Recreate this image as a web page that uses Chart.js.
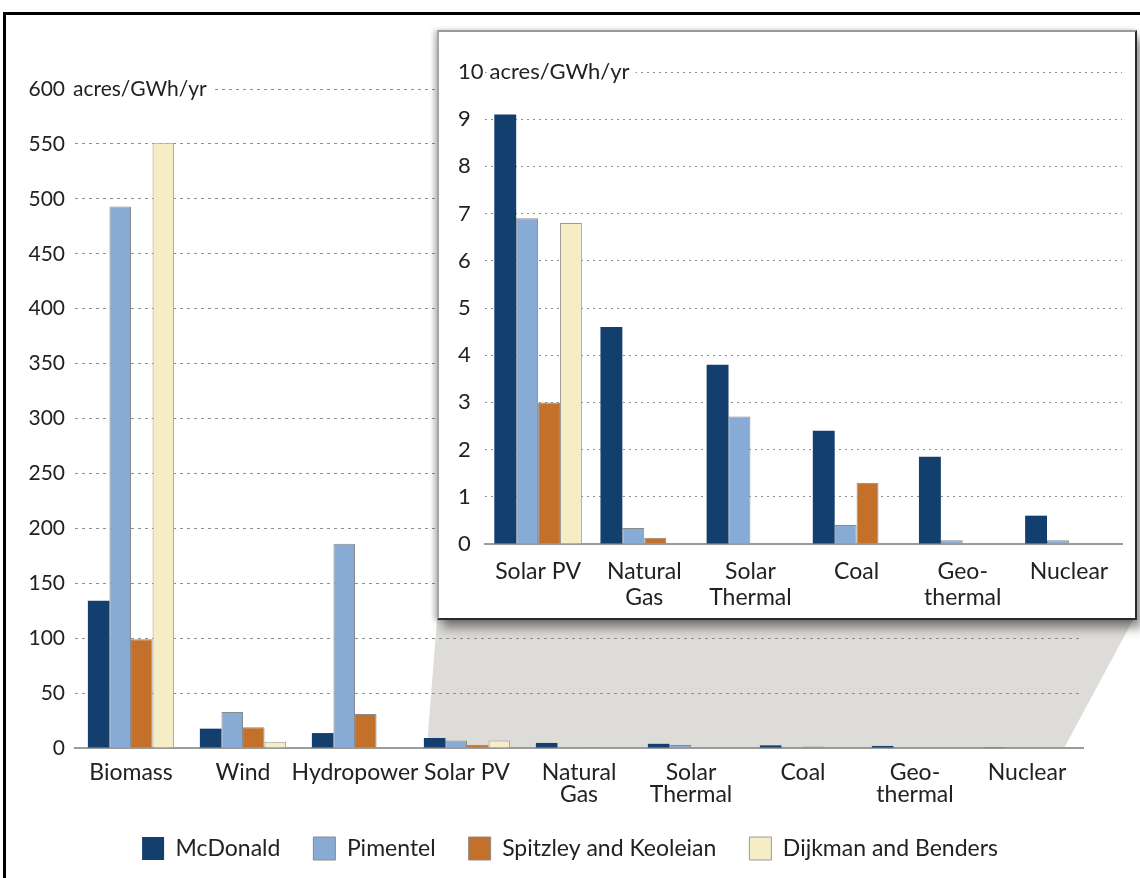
<!DOCTYPE html>
<html>
<head>
<meta charset="utf-8">
<script src="https://cdn.jsdelivr.net/npm/chart.js@4.4.0/dist/chart.umd.min.js"></script>
<style>
  html, body { margin: 0; padding: 0; background: #fff; overflow: hidden; }
  #page { position: relative; width: 1140px; height: 878px; overflow: hidden; }
  #frame { position: absolute; left: 3px; top: 12px; width: 1160px; height: 900px;
           border: 3px solid #000; box-sizing: border-box; z-index: 3; pointer-events: none; }
  #main { position: absolute; left: 0; top: 0; }
  #inset { position: absolute; left: 437px; top: 30px; width: 700px; height: 590px;
           box-sizing: border-box; background: #fff; z-index: 2;
           border: 2px solid #2a2a2a; border-top-color: #9a9a9a; border-left-color: #a5a5a5;
           box-shadow: 5px 8px 10px rgba(0,0,0,0.45), -3px 0 5px rgba(0,0,0,0.22); }
  #insetChart { position: absolute; left: 0; top: 0; }
</style>
</head>
<body>
<div id="page">
  <canvas id="main" width="1140" height="878"></canvas>
  <div id="inset"><canvas id="insetChart" width="696" height="586"></canvas></div>
  <div id="frame"></div>
</div>
<script>
// land use per energy source, acres/GWh/yr
const categories = ['Biomass', 'Wind', 'Hydropower', 'Solar PV', ['Natural', 'Gas'],
                    ['Solar', 'Thermal'], 'Coal', ['Geo-', 'thermal'], 'Nuclear'];
const seriesNames = ['McDonald', 'Pimentel', 'Spitzley and Keoleian', 'Dijkman and Benders'];
const mcdonald = [134, 17.6, 13.6, 9.1, 4.6, 3.8, 2.4, 1.85, 0.6];
const pimentel = [493, 32.7, 186, 6.9, 0.34, 2.7, 0.4, 0.08, 0.08];
const spitzley = [99, 19, 31, 3.0, 0.13, null, 1.3, null, null];
const dijkman  = [551, 5.8, null, 6.8, null, null, null, null, null];
const insetFrom = 3;          // inset zooms in from Solar PV onwards
const mainMax = 600, mainStep = 50;
const insetMax = 10, insetStep = 1;
const unitText = 'acres/GWh/yr';

const colors  = ['#123f6d', '#87abd4', '#c3702b', '#f4edc6'];
const borders = ['#123f6d', '#8a8a8a', '#8a8a8a', '#9a9a9a'];
const FONT = 'Lato, "Open Sans", sans-serif';

function makeDatasets(from) {
  return [mcdonald, pimentel, spitzley, dijkman].map((vals, i) => ({
    label: seriesNames[i],
    data: vals.slice(from),
    backgroundColor: colors[i],
    borderColor: borders[i],
    borderWidth: i === 0 ? 0 : 1,
    borderSkipped: 'bottom'
  }));
}

// puts the unit after the top tick label, on a white patch over the grid line
const unitLabel = {
  id: 'unitLabel',
  beforeDatasetsDraw(chart, args, opts) {
    const y = chart.scales.y;
    const ctx = chart.ctx;
    const top = y.getPixelForValue(y.max);
    const tickFont = Chart.helpers.toFont(y.options.ticks.font);
    ctx.save();
    ctx.font = tickFont.string;
    const lbl = String(y.ticks[y.ticks.length - 1].label);
    const lw = ctx.measureText(lbl).width;
    const labelRight = y.options.ticks.crossAlign === 'far' ? y.left + lw : y.right - y.options.ticks.padding;
    const x0 = labelRight + opts.gap;
    const w = ctx.measureText(opts.text).width;
    const patchLeft = x0 - 3;
    ctx.fillStyle = '#fff';
    ctx.fillRect(patchLeft, top - 3, w + opts.after + 3, 6);
    ctx.fillStyle = '#222';
    ctx.textBaseline = 'middle';
    ctx.fillText(opts.text, x0, top);
    ctx.restore();
  }
};

// grey wedge joining the zoomed categories to the inset box
const callout = {
  id: 'callout',
  beforeDraw(chart, args, opts) {
    const box = document.getElementById('inset');
    const x = chart.scales.x, y = chart.scales.y;
    const half = x.width / categories.length * opts.groupPct / 2;
    const bottom = y.getPixelForValue(0);
    const left = x.getPixelForValue(insetFrom) - half;
    const right = x.getPixelForValue(categories.length - 1) + half;
    const ctx = chart.ctx;
    ctx.save();
    ctx.fillStyle = '#dedcd8';
    ctx.beginPath();
    ctx.moveTo(box.offsetLeft, box.offsetTop + box.offsetHeight);
    ctx.lineTo(box.offsetLeft + box.offsetWidth - 4, box.offsetTop + box.offsetHeight);
    ctx.lineTo(right - 6, bottom);
    ctx.lineTo(left + 3, bottom);
    ctx.closePath();
    ctx.fill();
    ctx.restore();
  }
};

const mainPct = 0.77;
new Chart(document.getElementById('main'), {
  type: 'bar',
  data: { labels: categories, datasets: makeDatasets(0) },
  plugins: [callout, unitLabel],
  options: {
    responsive: false,
    animation: false,
    layout: { padding: { top: 89, right: 0, bottom: 8, left: 0 } },
    datasets: { bar: { categoryPercentage: mainPct, barPercentage: 1 } },
    scales: {
      x: {
        grid: { display: false, drawTicks: false },
        border: { display: true, color: '#9b9b9b', width: 2 },
        ticks: { color: '#222', padding: 14, maxRotation: 0, autoSkip: false,
                 font: { family: FONT, size: 23, lineHeight: 0.95 } },
        afterFit: s => { s.height = 56; }
      },
      y: {
        min: 0, max: mainMax,
        grid: { color: c => c.tick.value === 0 ? 'rgba(0,0,0,0)' : '#8f8f8f', drawTicks: false },
        border: { display: false, dash: [3, 4] },
        ticks: { stepSize: mainStep, color: '#222', padding: 10,
                 font: { family: FONT, size: 21 } },
        afterFit: s => { s.width = 75; }
      },
      yr: {
        position: 'right', display: true,
        grid: { display: false, drawTicks: false }, border: { display: false },
        ticks: { display: false },
        afterFit: s => { s.width = 57; }
      }
    },
    plugins: {
      callout: { groupPct: mainPct },
      unitLabel: { text: unitText, gap: 8, after: 5 },
      tooltip: { enabled: false },
      legend: {
        position: 'bottom',
        labels: { boxWidth: 22, boxHeight: 23, padding: 33, color: '#222',
                  font: { family: FONT, size: 23 } }
      }
    }
  }
});

new Chart(document.getElementById('insetChart'), {
  type: 'bar',
  data: { labels: categories.slice(insetFrom), datasets: makeDatasets(insetFrom) },
  plugins: [unitLabel],
  options: {
    responsive: false,
    animation: false,
    layout: { padding: { top: 40, right: 13, bottom: 0, left: 19 } },
    datasets: { bar: { categoryPercentage: 0.825, barPercentage: 1 } },
    scales: {
      x: {
        grid: { display: false, drawTicks: false },
        border: { display: true, color: '#9b9b9b', width: 2 },
        ticks: { color: '#222', padding: 14, maxRotation: 0, autoSkip: false,
                 font: { family: FONT, size: 23, lineHeight: 1.15 } },
        afterFit: s => { s.height = 74; }
      },
      y: {
        min: 0, max: insetMax,
        grid: { color: c => c.tick.value === 0 ? 'rgba(0,0,0,0)' : '#8f8f8f', drawTicks: false },
        border: { display: false, dash: [2, 4] },
        ticks: { stepSize: insetStep, color: '#222', padding: 8, crossAlign: 'far',
                 font: { family: FONT, size: 22 } },
        afterFit: s => { s.width = 27; }
      }
    },
    plugins: {
      unitLabel: { text: unitText, gap: 6, after: 6 },
      tooltip: { enabled: false },
      legend: { display: false }
    }
  }
});
</script>
</body>
</html>
